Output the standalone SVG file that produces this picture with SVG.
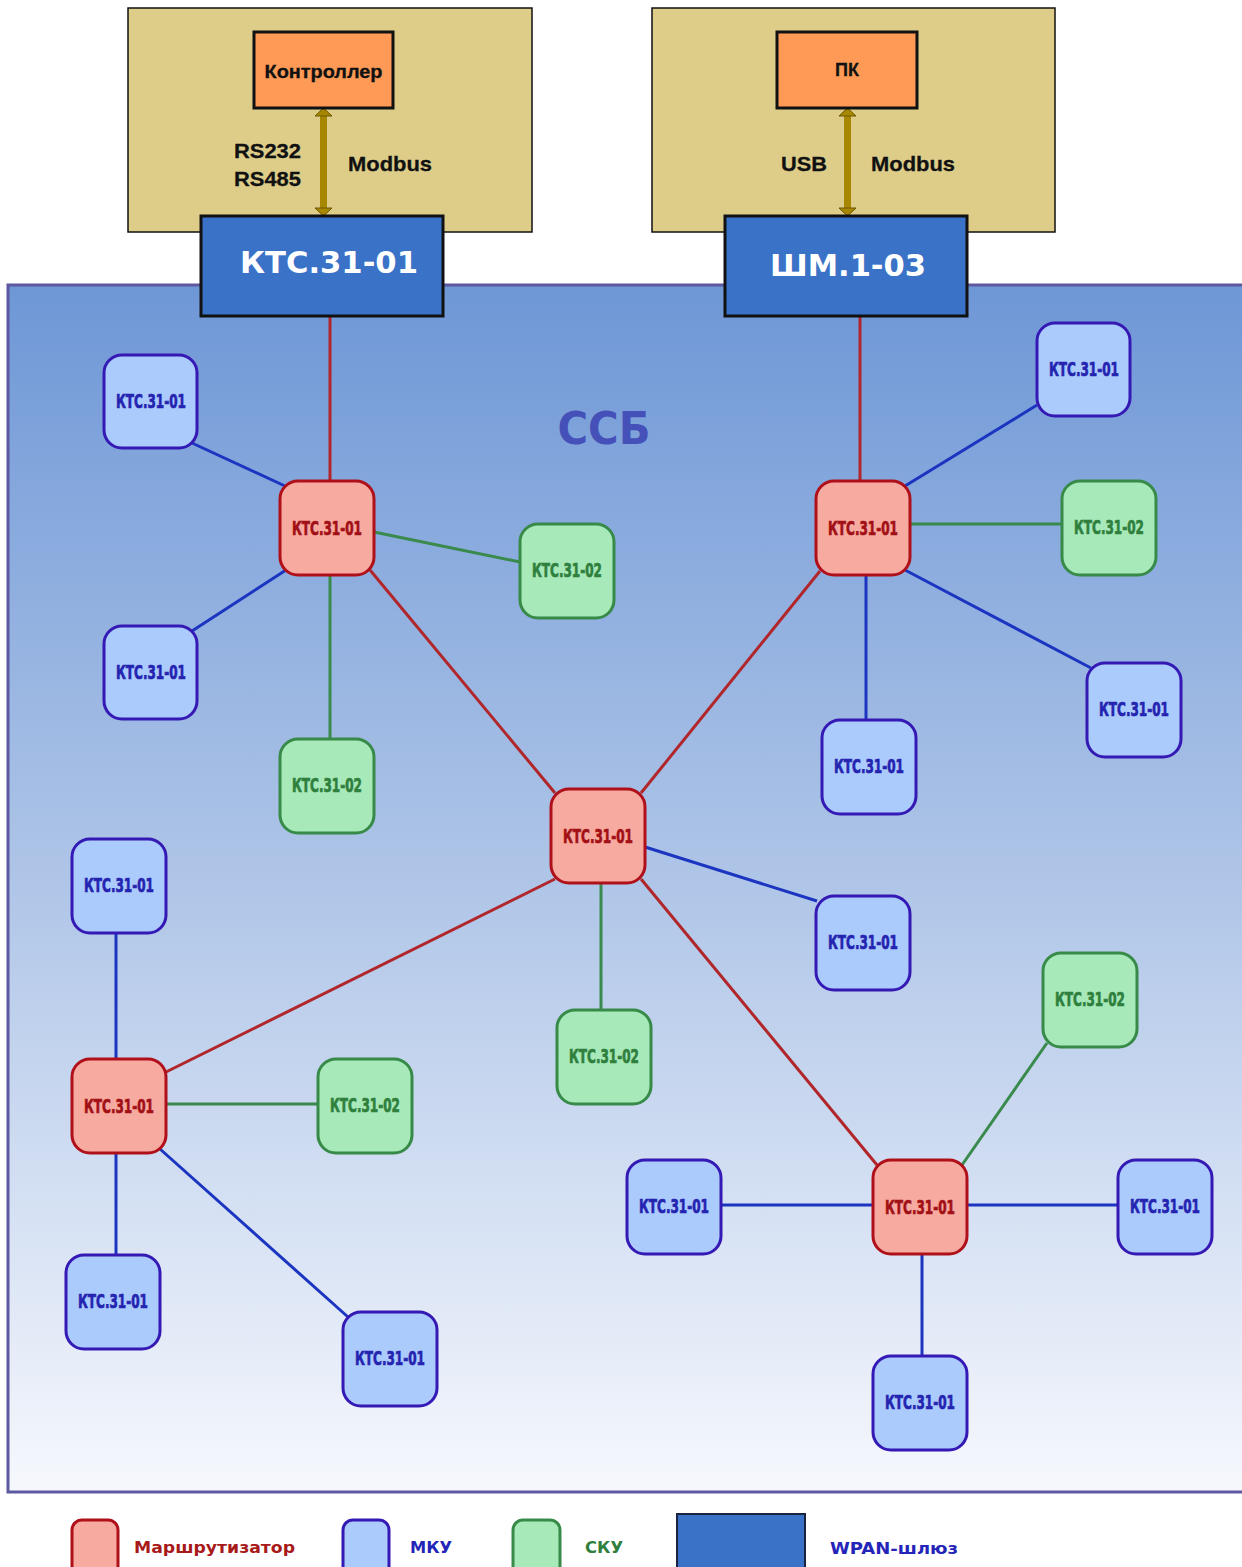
<svg xmlns="http://www.w3.org/2000/svg" width="1242" height="1567" viewBox="0 0 1242 1567">
<defs>
<linearGradient id="bg" x1="0" y1="0" x2="0" y2="1">
<stop offset="0" stop-color="#6e97d6"/>
<stop offset="0.5" stop-color="#b0c6e8"/>
<stop offset="1" stop-color="#f6f8fd"/>
</linearGradient>
<style>
.tan{fill:#ddcd89;stroke:#111;stroke-width:1.5}
.org{fill:#fe9a56;stroke:#111;stroke-width:3}
.gw{fill:#3a72c8;stroke:#111;stroke-width:3}
.lbl{font-family:"Liberation Sans",Arial,sans-serif;font-weight:bold;fill:#111;font-size:21px;stroke:#111;stroke-width:0.3}
.gwt{font-family:"DejaVu Sans",Verdana,sans-serif;font-weight:bold;fill:#fff;font-size:31px;text-anchor:middle}
.r rect{fill:#f7aaa0;stroke:#b0101a;stroke-width:3}
.b rect{fill:#abcbfd;stroke:#3419b4;stroke-width:3}
.g rect{fill:#a7e9b9;stroke:#378a48;stroke-width:3}
.nt{font-family:"Liberation Sans Narrow","DejaVu Sans Condensed","Roboto Condensed",sans-serif;font-weight:bold;font-size:20px;text-anchor:middle;stroke-width:0.7}
.r text{fill:#a21016;stroke:#a21016}.b text{fill:#2424b0;stroke:#2424b0}.g text{fill:#2f7f3d;stroke:#2f7f3d}
.cr{stroke:#b0262a;stroke-width:3}
.cb{stroke:#1c35c0;stroke-width:3}
.cg{stroke:#398a4c;stroke-width:3}
.lg{font-family:"DejaVu Sans",Verdana,sans-serif;font-weight:bold;font-size:16px}
</style>
</defs>

<g id="ssb">
<rect x="8" y="285" width="1245" height="1207" fill="url(#bg)" stroke="#5d58a0" stroke-width="3"/>
<text x="604" y="444" font-family="DejaVu Sans,Verdana,sans-serif" font-weight="bold" font-size="44" fill="#4550b8" text-anchor="middle" textLength="93" lengthAdjust="spacingAndGlyphs">ССБ</text>
</g>

<g id="host1">
<rect class="tan" x="128" y="8" width="404" height="224"/>
</g>
<g id="host2">
<rect class="tan" x="652" y="8" width="403" height="224"/>
</g>

<g id="links-top">
<rect x="320" y="114" width="7" height="96" fill="#a88700"/>
<polygon points="315,116 323.5,108 332,116" fill="#a88700" stroke="#6b5700" stroke-width="1"/>
<polygon points="315,208 323.5,216 332,208" fill="#a88700" stroke="#6b5700" stroke-width="1"/>
<rect x="844" y="114" width="7" height="96" fill="#a88700"/>
<polygon points="839,116 847.5,108 856,116" fill="#a88700" stroke="#6b5700" stroke-width="1"/>
<polygon points="839,208 847.5,216 856,208" fill="#a88700" stroke="#6b5700" stroke-width="1"/>
<text class="lbl" x="234" y="158" textLength="67" lengthAdjust="spacingAndGlyphs">RS232</text>
<text class="lbl" x="234" y="186" textLength="67" lengthAdjust="spacingAndGlyphs">RS485</text>
<text class="lbl" x="348" y="171" textLength="84" lengthAdjust="spacingAndGlyphs">Modbus</text>
<text class="lbl" x="781" y="171" textLength="46" lengthAdjust="spacingAndGlyphs">USB</text>
<text class="lbl" x="871" y="171" textLength="84" lengthAdjust="spacingAndGlyphs">Modbus</text>
</g>

<g id="controller">
<rect class="org" x="254" y="32" width="139" height="76"/>
<text x="323.5" y="78" font-family="Liberation Sans,Arial,sans-serif" font-weight="bold" font-size="18" fill="#111" stroke="#111" stroke-width="0.3" text-anchor="middle" textLength="118" lengthAdjust="spacingAndGlyphs">Контроллер</text>
</g>
<g id="pc">
<rect class="org" x="777" y="32" width="140" height="76"/>
<text x="847" y="76" font-family="Liberation Sans,Arial,sans-serif" font-weight="bold" font-size="18" fill="#111" stroke="#111" stroke-width="0.3" text-anchor="middle">ПК</text>
</g>

<g id="connectors" fill="none">
<line class="cr" x1="330" y1="316" x2="330" y2="482"/>
<line class="cr" x1="860" y1="316" x2="860" y2="482"/>
<line class="cr" x1="370" y1="570" x2="555" y2="793"/>
<line class="cr" x1="820" y1="571" x2="641" y2="793"/>
<line class="cr" x1="555" y1="879" x2="164" y2="1073"/>
<line class="cr" x1="641" y1="879" x2="877" y2="1165"/>
<line class="cb" x1="192" y1="443" x2="285" y2="486"/>
<line class="cb" x1="192" y1="631" x2="286" y2="570"/>
<line class="cb" x1="1037" y1="405" x2="905" y2="486" stroke-width="4"/>
<line class="cb" x1="905" y1="570" x2="1091" y2="668"/>
<line class="cb" x1="866" y1="575" x2="866" y2="720"/>
<line class="cb" x1="645" y1="847" x2="817" y2="901"/>
<line class="cb" x1="116" y1="933" x2="116" y2="1059"/>
<line class="cb" x1="116" y1="1153" x2="116" y2="1255"/>
<line class="cb" x1="160" y1="1149" x2="348" y2="1317"/>
<line class="cb" x1="721" y1="1205" x2="873" y2="1205"/>
<line class="cb" x1="967" y1="1205" x2="1118" y2="1205"/>
<line class="cb" x1="922" y1="1254" x2="922" y2="1356"/>
<line class="cg" x1="374" y1="532" x2="520" y2="562"/>
<line class="cg" x1="330" y1="575" x2="330" y2="739"/>
<line class="cg" x1="910" y1="524" x2="1062" y2="524"/>
<line class="cg" x1="601" y1="883" x2="601" y2="1010"/>
<line class="cg" x1="166" y1="1104" x2="318" y2="1104"/>
<line class="cg" x1="962" y1="1165" x2="1047" y2="1043"/>
</g>

<g id="gw1">
<rect class="gw" x="201" y="216" width="242" height="100"/>
<text class="gwt" x="329" y="273" textLength="178" lengthAdjust="spacingAndGlyphs">КТС.31-01</text>
</g>
<g id="gw2">
<rect class="gw" x="725" y="216" width="242" height="100"/>
<text class="gwt" x="848" y="276" textLength="156" lengthAdjust="spacingAndGlyphs">ШМ.1-03</text>
</g>

<g id="r1" class="r"><rect x="280" y="481" width="94" height="94" rx="18"/><text class="nt" x="327" y="535" textLength="70" lengthAdjust="spacingAndGlyphs">КТС.31-01</text></g>
<g id="r2" class="r"><rect x="816" y="481" width="94" height="94" rx="18"/><text class="nt" x="863" y="535" textLength="70" lengthAdjust="spacingAndGlyphs">КТС.31-01</text></g>
<g id="r3" class="r"><rect x="551" y="789" width="94" height="94" rx="18"/><text class="nt" x="598" y="843" textLength="70" lengthAdjust="spacingAndGlyphs">КТС.31-01</text></g>
<g id="r4" class="r"><rect x="72" y="1059" width="94" height="94" rx="18"/><text class="nt" x="119" y="1113" textLength="70" lengthAdjust="spacingAndGlyphs">КТС.31-01</text></g>
<g id="r5" class="r"><rect x="873" y="1160" width="94" height="94" rx="18"/><text class="nt" x="920" y="1214" textLength="70" lengthAdjust="spacingAndGlyphs">КТС.31-01</text></g>

<g id="b1" class="b"><rect x="104" y="355" width="93" height="93" rx="18"/><text class="nt" x="151" y="408" textLength="70" lengthAdjust="spacingAndGlyphs">КТС.31-01</text></g>
<g id="b2" class="b"><rect x="104" y="626" width="93" height="93" rx="18"/><text class="nt" x="151" y="679" textLength="70" lengthAdjust="spacingAndGlyphs">КТС.31-01</text></g>
<g id="b3" class="b"><rect x="1037" y="323" width="93" height="93" rx="18"/><text class="nt" x="1084" y="376" textLength="70" lengthAdjust="spacingAndGlyphs">КТС.31-01</text></g>
<g id="b4" class="b"><rect x="1087" y="663" width="94" height="94" rx="18"/><text class="nt" x="1134" y="716" textLength="70" lengthAdjust="spacingAndGlyphs">КТС.31-01</text></g>
<g id="b5" class="b"><rect x="822" y="720" width="94" height="94" rx="18"/><text class="nt" x="869" y="773" textLength="70" lengthAdjust="spacingAndGlyphs">КТС.31-01</text></g>
<g id="b6" class="b"><rect x="816" y="896" width="94" height="94" rx="18"/><text class="nt" x="863" y="949" textLength="70" lengthAdjust="spacingAndGlyphs">КТС.31-01</text></g>
<g id="b7" class="b"><rect x="72" y="839" width="94" height="94" rx="18"/><text class="nt" x="119" y="892" textLength="70" lengthAdjust="spacingAndGlyphs">КТС.31-01</text></g>
<g id="b8" class="b"><rect x="66" y="1255" width="94" height="94" rx="18"/><text class="nt" x="113" y="1308" textLength="70" lengthAdjust="spacingAndGlyphs">КТС.31-01</text></g>
<g id="b9" class="b"><rect x="343" y="1312" width="94" height="94" rx="18"/><text class="nt" x="390" y="1365" textLength="70" lengthAdjust="spacingAndGlyphs">КТС.31-01</text></g>
<g id="b10" class="b"><rect x="627" y="1160" width="94" height="94" rx="18"/><text class="nt" x="674" y="1213" textLength="70" lengthAdjust="spacingAndGlyphs">КТС.31-01</text></g>
<g id="b11" class="b"><rect x="1118" y="1160" width="94" height="94" rx="18"/><text class="nt" x="1165" y="1213" textLength="70" lengthAdjust="spacingAndGlyphs">КТС.31-01</text></g>
<g id="b12" class="b"><rect x="873" y="1356" width="94" height="94" rx="18"/><text class="nt" x="920" y="1409" textLength="70" lengthAdjust="spacingAndGlyphs">КТС.31-01</text></g>

<g id="g1" class="g"><rect x="520" y="524" width="94" height="94" rx="18"/><text class="nt" x="567" y="577" textLength="70" lengthAdjust="spacingAndGlyphs">КТС.31-02</text></g>
<g id="g2" class="g"><rect x="280" y="739" width="94" height="94" rx="18"/><text class="nt" x="327" y="792" textLength="70" lengthAdjust="spacingAndGlyphs">КТС.31-02</text></g>
<g id="g3" class="g"><rect x="1062" y="481" width="94" height="94" rx="18"/><text class="nt" x="1109" y="534" textLength="70" lengthAdjust="spacingAndGlyphs">КТС.31-02</text></g>
<g id="g4" class="g"><rect x="557" y="1010" width="94" height="94" rx="18"/><text class="nt" x="604" y="1063" textLength="70" lengthAdjust="spacingAndGlyphs">КТС.31-02</text></g>
<g id="g5" class="g"><rect x="318" y="1059" width="94" height="94" rx="18"/><text class="nt" x="365" y="1112" textLength="70" lengthAdjust="spacingAndGlyphs">КТС.31-02</text></g>
<g id="g6" class="g"><rect x="1043" y="953" width="94" height="94" rx="18"/><text class="nt" x="1090" y="1006" textLength="70" lengthAdjust="spacingAndGlyphs">КТС.31-02</text></g>

<g id="legend">
<g class="r"><rect x="72" y="1520" width="46" height="60" rx="10"/></g>
<text class="lg" x="134" y="1553" fill="#a81a1a" textLength="161" lengthAdjust="spacingAndGlyphs">Маршрутизатор</text>
<g class="b"><rect x="343" y="1520" width="46" height="60" rx="10"/></g>
<text class="lg" x="410" y="1553" fill="#2424b8" textLength="42" lengthAdjust="spacingAndGlyphs">МКУ</text>
<g class="g"><rect x="513" y="1520" width="47" height="60" rx="10"/></g>
<text class="lg" x="585" y="1553" fill="#2f7f3d" textLength="38" lengthAdjust="spacingAndGlyphs">СКУ</text>
<rect x="677" y="1514" width="128" height="60" fill="#3a72c8" stroke="#1a2440" stroke-width="2"/>
<text class="lg" x="830" y="1554" fill="#2424b8" textLength="128" lengthAdjust="spacingAndGlyphs">WPAN-шлюз</text>
</g>
</svg>
